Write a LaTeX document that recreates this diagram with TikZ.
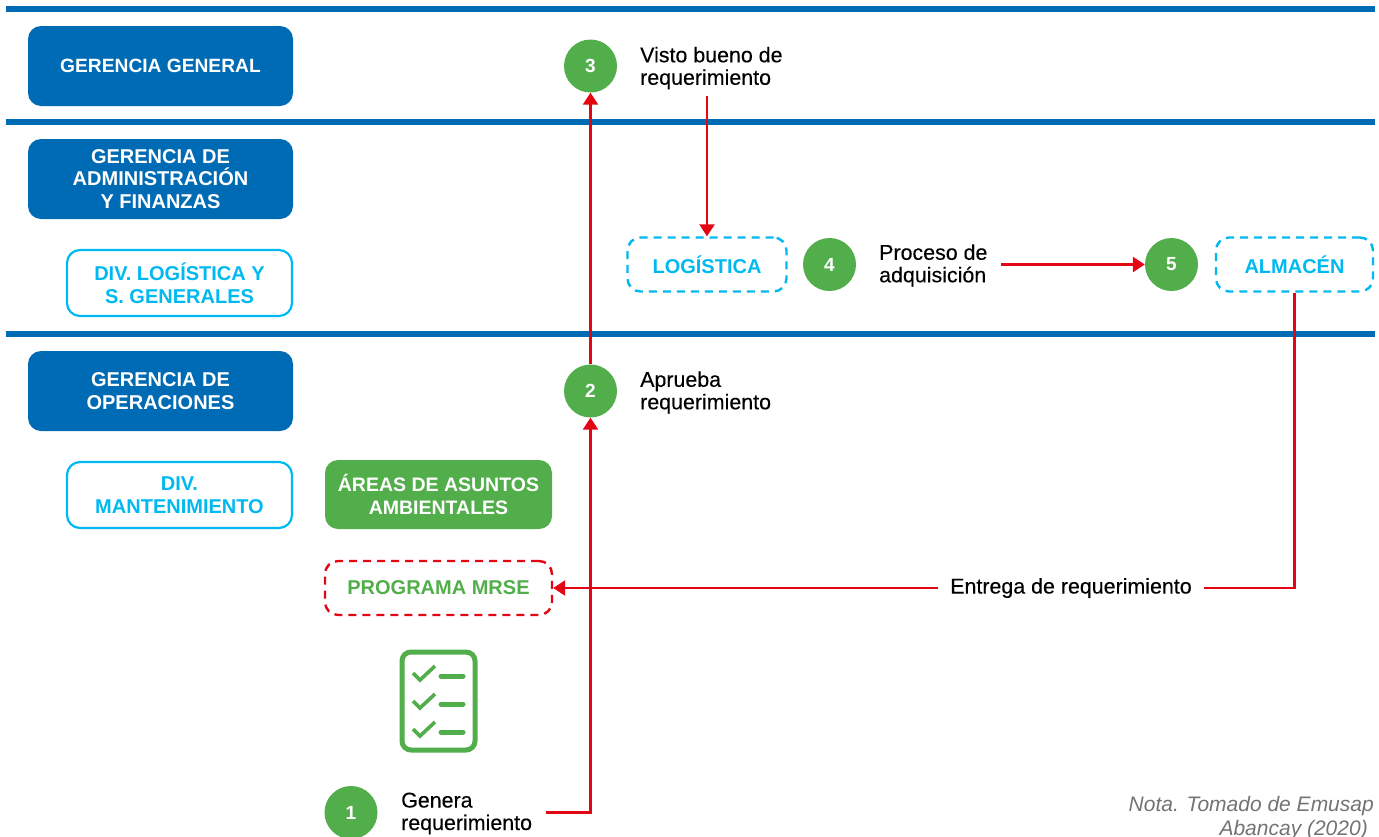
\documentclass[tikz,border=0pt]{standalone}
\usepackage{fontspec}
\setmainfont{Liberation Sans}
\newfontfamily\medio[FakeBold=0.2]{Liberation Sans}
\usetikzlibrary{arrows.meta, calc}
\definecolor{azul}{HTML}{006BB5}
\definecolor{celeste}{HTML}{00B9F0}
\definecolor{verde}{HTML}{52AE4A}
\definecolor{rojo}{HTML}{E30613}
\tikzstyle{gerencia} = [rectangle, rounded corners=13pt, minimum width=265pt, minimum height=80pt, align=center, fill=azul, text=white, font=\fontsize{20}{22.5}\selectfont\bfseries, inner sep=0pt]
\tikzstyle{division} = [rectangle, rounded corners=13pt, minimum width=225pt, minimum height=66pt, align=center, draw=celeste, line width=2.2pt, text=celeste, font=\fontsize{20}{22.5}\selectfont\bfseries, inner sep=0pt]
\tikzstyle{area} = [rectangle, rounded corners=13pt, minimum width=227pt, minimum height=69pt, align=center, fill=verde, text=white, font=\fontsize{19.5}{22.5}\selectfont\bfseries, inner sep=0pt]
\tikzstyle{punteado} = [rectangle, rounded corners=13pt, minimum height=54pt, align=center, line width=2.4pt, dash pattern=on 8pt off 6pt, font=\fontsize{20}{22}\selectfont\bfseries, inner sep=0pt]
\tikzstyle{paso} = [circle, minimum size=53pt, fill=verde, text=white, font=\fontsize{19}{20}\selectfont\bfseries, inner sep=0pt]
\tikzstyle{texto} = [align=left, anchor=west, text=black, font=\fontsize{21.4}{22.5}\selectfont\medio, inner xsep=0pt, inner ysep=2pt]
\tikzstyle{linea} = [azul, line width=5.5pt]
\tikzstyle{arrow} = [rojo, line width=2.6pt, -{Triangle[length=12pt,width=15pt]}]
\tikzstyle{trazo} = [rojo, line width=2.6pt]

\begin{document}
\begin{tikzpicture}[x=1pt, y=-1pt]
	\useasboundingbox (0,0) rectangle (1379,836);
	\clip (0,0) rectangle (1379,836);
	
	% Lines
	\foreach \y in {9,122,334}
		\draw [linea] (6,\y) -- (1375,\y);
	
	% Nodes
	\node (general) [gerencia, font=\fontsize{19.2}{22}\selectfont\bfseries] at (160.5,66) {GERENCIA GENERAL};
	\node (admin) [gerencia] at (160.5,179) {GERENCIA DE\\ADMINISTRACIÓN\\Y FINANZAS};
	\node (operaciones) [gerencia] at (160.5,391) {GERENCIA DE\\OPERACIONES};
	\node (divlog) [division] at (179.5,283) {DIV. LOGÍSTICA Y\\S. GENERALES};
	\node (divman) [division] at (179.5,495) {DIV.\\MANTENIMIENTO};
	\node (ambiental) [area] at (438.5,494.5) {ÁREAS DE ASUNTOS\\AMBIENTALES};
	\node (programa) [punteado, draw=rojo, text=verde, minimum width=227pt] at (438.5,588) {PROGRAMA MRSE};
	\node (logistica) [punteado, draw=celeste, text=celeste, minimum width=159pt] at (707,264.5) {LOGÍSTICA};
	\node (almacen) [punteado, draw=celeste, text=celeste, minimum width=157pt] at (1294.5,264.5) {ALMACÉN};
	
	\node (uno) [paso] at (351,812.5) {1};
	\node (dos) [paso] at (590.5,391) {2};
	\node (tres) [paso] at (590.5,66) {3};
	\node (cuatro) [paso] at (829.5,264.5) {4};
	\node (cinco) [paso] at (1171.5,264.5) {5};
	
	\node (genera) [texto] at (401,813.5) {Genera\\requerimiento};
	\node (aprueba) [texto] at (640,392.5) {Aprueba\\requerimiento};
	\node (visto) [texto, inner ysep=7pt] at (640,68) {Visto bueno de\\requerimiento};
	\node (proceso) [texto] at (879,265.5) {Proceso de\\adquisición};
	\node (entrega) [texto, anchor=center, inner xsep=12pt] at (1071,588) {Entrega de requerimiento};
	\node (nota) [align=right, anchor=north east, text=black!55, inner sep=0pt, font=\fontsize{21}{24}\selectfont\itshape] at (1374,796) {Nota. Tomado de Emusap\\Abancay (2020)\hspace*{6pt}};
	
	% Checklist
	\node (lista) [rectangle, rounded corners=9pt, draw=verde, line width=5pt, minimum width=73pt, minimum height=98pt, inner sep=0pt] at (438.5,701) {};
	\foreach \y in {0,28,56} {
		\draw [verde, line width=3.6pt, line join=miter] (413,673+\y) -- (420,680+\y) -- (435,666+\y);
		\draw [verde, line width=5pt, line cap=round] (441,676+\y) -- (463,676+\y);
	}
	
	% Arrows
	\draw [trazo] (546,812.5) -| ($(dos.south)+(0,12)$);
	\draw [arrow] (590.5,812.5) -- (dos.south);
	\draw [arrow] (dos.north) -- (tres.south);
	\draw [arrow] (visto.south -| logistica.north) -- (logistica.north);
	\draw [arrow] (1001,264.5) -- (cinco.west);
	\draw [trazo] (almacen.south) |- (entrega.east);
	\draw [arrow] (entrega.west) -- (programa.east);
	
\end{tikzpicture}
\end{document}
